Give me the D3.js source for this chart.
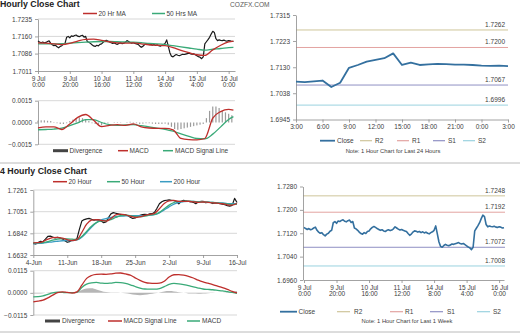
<!DOCTYPE html>
<html><head><meta charset="utf-8">
<script src="https://cdn.jsdelivr.net/npm/d3@7"></script>
<style>
body{margin:0;background:#fff;}
svg{display:block;font-family:"Liberation Sans",Arial,sans-serif;}
</style></head><body>
<svg id="c" width="527" height="336"></svg>
<script>
// ---------- DATA ----------
// Hourly close (trading-hour index 0..123), 9 Jul 0:00 -> 16 Jul
const hourlyClose = [
1.7140,1.7136,1.7133,1.7136,1.7132,1.7134,1.7138,1.7141,
1.7130,1.7124,1.7120,1.7122,1.7115,1.7111,1.7117,1.7120,1.7127,1.7130,
1.7156,1.7160,1.7154,1.7162,1.7160,1.7164,1.7166,1.7161,1.7159,1.7163,1.7165,1.7157,1.7160,
1.7138,1.7135,1.7130,1.7124,1.7119,1.7117,1.7122,1.7119,1.7126,1.7128,1.7135,1.7140,
1.7143,1.7140,1.7136,1.7133,1.7130,1.7132,1.7128,1.7126,1.7130,1.7132,1.7129,1.7131,1.7135,
1.7142,1.7138,1.7134,1.7131,1.7133,1.7130,1.7128,1.7126,
1.7119,1.7113,1.7117,1.7124,1.7128,1.7127,1.7124,1.7126,1.7122,1.7125,1.7121,1.7124,1.7120,1.7118,1.7122,1.7125,1.7130,
1.7145,
1.7118,1.7090,1.7075,1.7072,
1.7078,1.7082,1.7079,1.7077,1.7080,1.7083,1.7082,1.7084,1.7086,1.7088,1.7085,1.7083,1.7085,1.7081,1.7077,1.7073,
1.7070,1.7064,1.7072,
1.7128,1.7137,1.7146,1.7156,1.7170,1.7182,1.7177,1.7150,1.7142,1.7145,
1.7143,1.7142,1.7144,1.7141,1.7140,1.7142,1.7141,1.7138,1.7139];
const hourlyMaIdx = [0,5,10,15,20,25,30,35,40,45,50,55,60,65,70,75,80,85,90,95,100,105,110,115,120,123];
const hourlyMa20 = [1.7132,1.7131,1.7128,1.7125,1.7130,1.7140,1.7147,1.7148,1.7143,1.7137,1.7132,1.7131,1.7132,1.7128,1.7124,1.7122,1.7120,1.7112,1.7100,1.7090,1.7081,1.7078,1.7102,1.7122,1.7136,1.7140];
const hourlyMa50 = [1.7128,1.7128,1.7128,1.7129,1.7131,1.7133,1.7135,1.7137,1.7138,1.7138,1.7137,1.7136,1.7135,1.7133,1.7130,1.7128,1.7125,1.7120,1.7115,1.7110,1.7105,1.7101,1.7105,1.7108,1.7112,1.7113];
const hourlyMacd = [-0.00037,-0.0003,-0.0003,-0.00048,-0.0001,0.00035,0.00055,0.00015,-0.00028,-0.0002,-0.00015,-0.0002,-0.0001,-0.0003,-0.00038,-0.0004,-0.0004,-0.0005,-0.0011,-0.00118,-0.0012,-0.0011,0.0003,0.00075,0.0009,0.00085];
const hourlySignal = [-0.0005,-0.00048,-0.00045,-0.00038,-0.00022,-0.00003,0.0002,0.0002,0.0,-0.00015,-0.0002,-0.00017,-0.00015,-0.00022,-0.0003,-0.00038,-0.00047,-0.0006,-0.00078,-0.00095,-0.0011,-0.00112,-0.0008,-0.0003,0.0002,0.0004];
// divergence every 2 hours (index 0,2,...,122)
const hourlyDivergence = [0.00013,0.00015,0.00015,0.00012,0.0001,0.00003,-0.00005,-0.0001,-0.0001,-0.00005,
0.0001,0.0002,0.0003,0.00035,0.0003,0.0002,0.0001,-0.00005,-0.0001,-0.00015,
-0.0002,-0.0001,-0.00005,0,0.00003,0.00003,0.00002,0,0.00003,0.00005,
0.00003,-0.00005,-0.0001,-0.00008,-0.00005,-0.00005,-0.00008,-0.0001,-0.0001,-0.0001,
-0.00008,-0.00015,-0.0003,-0.00045,-0.0005,-0.00045,-0.0004,-0.00035,-0.0003,-0.00025,
-0.0002,-0.00015,-0.0001,0.0003,0.0008,0.0011,0.0011,0.001,0.0008,0.0007,0.0006,0.0005];
const hourlyXTicks = [0,20,40,60,80,100,120];
const hourlyXLabels = [["9 Jul","0:00"],["9 Jul","20:00"],["10 Jul","16:00"],["11 Jul","12:00"],["14 Jul","8:00"],["15 Jul","4:00"],["16 Jul","0:00"]];
const hourlyYTicks = [1.7011,1.7086,1.7160,1.7235];
const hourlyMacdTicks = [-0.0015,0.0,0.0015];

// Last 24 hours (hour 0..24 from 3:00)
const dayClose = [1.7079,1.7077,1.7080,1.7083,1.7060,1.7075,1.7128,1.7138,1.7150,1.7156,1.7162,1.7179,1.7138,1.7146,1.7138,1.7140,1.7142,1.7141,1.7139,1.7139,1.7138,1.7136,1.7135,1.7136,1.7134];
const dayXTicks = [0,3,6,9,12,15,18,21,24];
const dayXLabels = ["3:00","6:00","9:00","12:00","15:00","18:00","21:00","0:00","3:00"];
const dayYTicks = [1.6945,1.7038,1.7130,1.7223,1.7315];
const dayLevelNames = ["R2","R1","S1","S2"];
const dayLevels = [1.7262,1.7200,1.7067,1.6996];

// 4 hourly (days from 4-Jun; close every half day)
const fourClose = [
1.6745,1.6738,1.6752,1.6765,1.6760,1.6785,1.6812,1.6815,1.6805,1.6798,
1.6802,1.6796,1.6788,1.6770,1.6755,1.6762,1.6775,1.6778,1.6790,1.6880,
1.6960,1.6975,1.6982,1.6986,1.6978,1.6970,1.6975,1.6972,1.6960,1.6945,
1.6952,1.6995,1.7030,1.7042,1.7036,1.7030,1.7024,1.7015,1.7022,1.7012,
1.6998,1.6985,1.6990,1.7005,1.7015,1.7022,1.7025,1.7022,1.7030,1.7032,
1.7045,1.7085,1.7128,1.7148,1.7158,1.7162,1.7166,1.7162,1.7158,1.7150,
1.7128,1.7152,1.7162,1.7155,1.7150,1.7147,1.7142,1.7128,1.7145,1.7150,
1.7152,1.7138,1.7142,1.7140,1.7130,1.7136,1.7134,1.7128,1.7125,1.7118,
1.7110,1.7105,1.7112,1.7180,1.7140];
const four20 = [1.6750,1.6752,1.6762,1.6785,1.6800,1.6803,1.6795,1.6780,1.6772,1.6780,1.6850,1.6930,1.6970,1.6975,1.6968,1.6960,1.6985,1.7020,1.7028,1.7020,1.7008,1.6995,1.7002,1.7015,1.7025,1.7035,1.7080,1.7130,1.7155,1.7160,1.7150,1.7150,1.7152,1.7147,1.7142,1.7145,1.7142,1.7137,1.7133,1.7128,1.7118,1.7115,1.7130];
const four50 = [1.6748,1.6750,1.6752,1.6762,1.6775,1.6785,1.6790,1.6788,1.6785,1.6782,1.6810,1.6860,1.6910,1.6945,1.6962,1.6965,1.6975,1.6995,1.7012,1.7018,1.7012,1.7005,1.7003,1.7008,1.7018,1.7025,1.7045,1.7080,1.7115,1.7140,1.7150,1.7152,1.7153,1.7150,1.7147,1.7146,1.7143,1.7140,1.7137,1.7132,1.7126,1.7122,1.7125];
const four200 = [1.6740,1.6744,1.6748,1.6754,1.6760,1.6765,1.6770,1.6771,1.6772,1.6778,1.6805,1.6850,1.6900,1.6945,1.6972,1.6985,1.6995,1.7003,1.7008,1.7010,1.7012,1.7012,1.7012,1.7014,1.7018,1.7022,1.7040,1.7068,1.7098,1.7125,1.7142,1.7148,1.7150,1.7150,1.7148,1.7146,1.7143,1.7141,1.7138,1.7135,1.7130,1.7128,1.7128];
const fourSignal = [-0.0047,-0.0043,-0.0038,-0.0026,-0.0012,0.0001,0.0005,0.0002,-0.0001,0.0005,0.0040,0.0075,0.0090,0.0096,0.0097,0.0096,0.0098,0.0102,0.0103,0.0098,0.0092,0.0078,0.0065,0.0055,0.0050,0.0049,0.0050,0.0060,0.0082,0.0094,0.0095,0.0092,0.0086,0.0077,0.0066,0.0057,0.0050,0.0043,0.0035,0.0027,0.0018,0.0008,0.0000];
const fourMacd = [-0.0021,-0.0020,-0.0016,-0.0008,0.0000,0.0003,0.0002,0.0001,0.0001,0.0003,0.0028,0.0045,0.0052,0.0054,0.0051,0.0049,0.0051,0.0054,0.0053,0.0049,0.0042,0.0033,0.0025,0.0020,0.0019,0.0019,0.0022,0.0032,0.0044,0.0049,0.0047,0.0043,0.0038,0.0031,0.0025,0.0020,0.0018,0.0016,0.0013,0.0010,0.0006,0.0002,-0.0002];
const fourDivergence = [-0.0004,-0.0004,-0.0002,0.0002,0.0003,0.0002,0.0000,-0.0001,0.0000,0.0004,0.0015,0.0022,0.0024,0.0018,0.0010,0.0004,0.0002,0.0002,0.0001,-0.0002,-0.0006,-0.0010,-0.0012,-0.0010,-0.0006,-0.0002,0.0002,0.0007,0.0009,0.0007,0.0003,0.0000,-0.0003,-0.0004,-0.0005,-0.0004,-0.0002,-0.0001,0.0000,0.0001,0.0003,0.0006,0.0010];
const fourXTicks = [0,7,14,21,28,35,42];
const fourXLabels = ["4-Jun","11-Jun","18-Jun","25-Jun","2-Jul","9-Jul","16-Jul"];
const fourYTicks = [1.6632,1.6842,1.7051,1.7261];
const fourMacdTicks = [-0.0115,0.0,0.0115];

// Last 1 week (hourly)
const weekYTicks = [1.6960,1.7040,1.7120,1.7200,1.7280];
const weekLevelNames = ["R2","R1","S1","S2"];
const weekLevels = [1.7248,1.7192,1.7072,1.7008];

// ---------- STYLE ----------
const svg = d3.select("#c");
const TXT = "#404040", AX = "#8c8c8c", GRID = "#cdcdcd";
const RED = "#be2f2c", GREEN = "#3aaa78", TEAL = "#3a9cc2", CLOSE = "#34709f", BLACK = "#1a1a1a";
const LEVEL_COL = {R2:"#cfc59a", R1:"#e3a3a1", S1:"#8f90c4", S2:"#9ad2df"};
const FS = 6.5;
const f4 = d3.format(".4f");

function text(x, y, s, opts = {}) {
  return svg.append("text").attr("x", x).attr("y", y).text(s)
    .attr("font-size", opts.size || FS).attr("fill", opts.fill || TXT)
    .attr("font-weight", opts.weight || "normal")
    .attr("text-anchor", opts.anchor || "start");
}
function styleAxis(g) {
  g.select(".domain").attr("stroke", AX).attr("stroke-width", 0.8);
  g.selectAll(".tick line").attr("stroke", AX).attr("stroke-width", 0.8);
  g.selectAll(".tick text").attr("fill", TXT).attr("font-size", FS).attr("font-family", null);
}
function grid(y, vals, x0, x1) {
  svg.append("g").selectAll("line").data(vals).join("line")
    .attr("x1", x0).attr("x2", x1).attr("y1", d => y(d)).attr("y2", d => y(d))
    .attr("stroke", GRID).attr("stroke-width", 0.8);
}
function yAxis(y, x0, ticks, fmt) {
  const g = svg.append("g").attr("transform", `translate(${x0},0)`)
    .call(d3.axisLeft(y).tickValues(ticks).tickFormat(fmt).tickSize(3).tickSizeOuter(0).tickPadding(3));
  styleAxis(g);
}
function xAxis(x, y0, ticks, labels, twoLine) {
  const g = svg.append("g").attr("transform", `translate(0,${y0})`)
    .call(d3.axisBottom(x).tickValues(ticks).tickFormat((d, i) => twoLine ? "" : labels[i]).tickSize(3).tickSizeOuter(0).tickPadding(2));
  styleAxis(g);
  if (twoLine) {
    g.selectAll(".tick text").each(function (d, i) {
      const t = d3.select(this);
      t.append("tspan").attr("x", 0).attr("dy", "0.71em").text(labels[i][0]);
      t.append("tspan").attr("x", 0).attr("dy", "1.05em").text(labels[i][1]);
    }).attr("dy", null);
  }
}
function legLine(x0, x1, y, col, w) {
  svg.append("line").attr("x1", x0).attr("x2", x1).attr("y1", y).attr("y2", y)
    .attr("stroke", col).attr("stroke-width", w || 1.5);
}
function path(data, gen, col, w) {
  svg.append("path").datum(data).attr("d", gen).attr("fill", "none")
    .attr("stroke", col).attr("stroke-width", w).attr("stroke-linejoin", "round");
}

// ---------- HEADER ----------
text(0, 6.6, "Hourly Close Chart", {size: 8.8, weight: "bold", fill: "#222"});
text(230, 6.5, "COZFX.COM", {size: 6.6, fill: "#595959"});

// ---------- PANEL A : hourly price ----------
{
  const x = d3.scaleLinear().domain([0, 124]).range([38, 235]);
  const y = d3.scaleLinear().domain([1.7011, 1.7235]).range([71, 19]);
  grid(y, hourlyYTicks.slice(1), 38, 235);
  yAxis(y, 38, hourlyYTicks, f4);
  xAxis(x, 71, hourlyXTicks, hourlyXLabels, true);
  path(hourlyClose, d3.line().x((d, i) => x(i)).y(d => y(d)), BLACK, 1.2);
  const ma = arr => arr.map((v, k) => [hourlyMaIdx[k], v]);
  path(ma(hourlyMa50), d3.line().x(d => x(d[0])).y(d => y(d[1])).curve(d3.curveMonotoneX), GREEN, 1.3);
  path(ma(hourlyMa20), d3.line().x(d => x(d[0])).y(d => y(d[1])).curve(d3.curveMonotoneX), RED, 1.3);
  legLine(83, 97, 13.5, RED); text(98.5, 15.8, "20 Hr MA");
  legLine(152, 165, 13.5, GREEN); text(166.5, 15.8, "50 Hrs MA");
}
// ---------- PANEL B : hourly MACD ----------
{
  const x = d3.scaleLinear().domain([0, 124]).range([38, 235]);
  const y = d3.scaleLinear().domain([-0.0015, 0.0015]).range([144.3, 100.7]);
  grid(y, [-0.0015, 0.0015], 38, 235);
  yAxis(y, 38, hourlyMacdTicks, f4);
  svg.append("g").selectAll("rect").data(hourlyDivergence).join("rect")
    .attr("x", (d, i) => x(i * 2) - 0.6).attr("width", 1.2)
    .attr("y", d => Math.min(y(d), y(0))).attr("height", d => Math.abs(y(d) - y(0)))
    .attr("fill", "#9b9b9b");
  const pts = arr => arr.map((v, k) => [hourlyMaIdx[k], v]);
  const ln = d3.line().x(d => x(d[0])).y(d => y(d[1])).curve(d3.curveMonotoneX);
  path(pts(hourlySignal), ln, GREEN, 1.3);
  path(pts(hourlyMacd), ln, RED, 1.3);
  legLine(53, 68, 150.7, "#444", 3); text(69.5, 153, "Divergence");
  legLine(118, 128, 150.7, RED); text(129.5, 153, "MACD");
  legLine(163, 173, 150.7, GREEN); text(175, 153, "MACD Signal Line");
}
// ---------- PANEL C : last 24 hours ----------
{
  const x = d3.scaleLinear().domain([0, 24]).range([296, 508]);
  const y = d3.scaleLinear().domain([1.6945, 1.7315]).range([119.5, 15]);
  dayLevels.forEach((v, k) => {
    svg.append("line").attr("x1", 296).attr("x2", 508).attr("y1", y(v)).attr("y2", y(v))
      .attr("stroke", LEVEL_COL[dayLevelNames[k]]).attr("stroke-width", 1);
    text(505, y(v) - 3, f4(v), {anchor: "end"});
  });
  yAxis(y, 296, dayYTicks, f4);
  xAxis(x, 119.5, dayXTicks, dayXLabels, false);
  path(dayClose, d3.line().x((d, i) => x(i)).y(d => y(d)), CLOSE, 1.8);
  const ly = 140.7;
  legLine(320, 335, ly, CLOSE, 1.8); text(337, ly + 2.3, "Close");
  const lx = [[360, 375], [397, 412], [433, 448], [463, 478]];
  dayLevelNames.forEach((n, k) => { legLine(lx[k][0], lx[k][0] + 12, ly, LEVEL_COL[n], 1.2); text(lx[k][1], ly + 2.3, n); });
  text(393, 153, "Note: 1 Hour Chart for Last 24 Hours", {size: 5.8, anchor: "middle"});
}
// separators
svg.append("line").attr("x1", 0).attr("x2", 520).attr("y1", 163).attr("y2", 163).attr("stroke", "#a8a8a8").attr("stroke-width", 0.8);
svg.append("line").attr("x1", 0).attr("x2", 520).attr("y1", 332).attr("y2", 332).attr("stroke", "#a8a8a8").attr("stroke-width", 0.8);

// ---------- PANEL D : 4 hourly price ----------
text(0, 173.8, "4 Hourly Close Chart", {size: 8.8, weight: "bold", fill: "#222"});
{
  const x = d3.scaleLinear().domain([0, 42]).range([33.3, 237]);
  const y = d3.scaleLinear().domain([1.6632, 1.7261]).range([255, 190]);
  grid(y, fourYTicks.slice(1), 33.3, 237);
  yAxis(y, 33.3, fourYTicks, f4);
  xAxis(x, 255, fourXTicks, fourXLabels, false);
  path(fourClose, d3.line().x((d, i) => x(i / 2)).y(d => y(d)), BLACK, 1.2);
  const ln = d3.line().x((d, i) => x(i)).y(d => y(d)).curve(d3.curveMonotoneX);
  path(four200, ln, TEAL, 1.3);
  path(four50, ln, GREEN, 1.3);
  path(four20, ln, RED, 1.3);
  const ly = 181.7;
  legLine(53, 67, ly, RED); text(68.5, ly + 2.3, "20 Hour");
  legLine(107, 120, ly, GREEN); text(121.5, ly + 2.3, "50 Hour");
  legLine(160, 172, ly, TEAL); text(173.5, ly + 2.3, "200 Hour");
}
// ---------- PANEL E : 4 hourly MACD ----------
{
  const x = d3.scaleLinear().domain([0, 42]).range([33.3, 237]);
  const y = d3.scaleLinear().domain([-0.0115, 0.0115]).range([315, 270.7]);
  grid(y, [-0.0115, 0.0115], 33.3, 237);
  yAxis(y, 33.3, fourMacdTicks, f4);
  svg.append("path").datum(fourDivergence)
    .attr("d", d3.area().x((d, i) => x(i)).y0(y(0)).y1(d => y(d)).curve(d3.curveMonotoneX))
    .attr("fill", "#a9a9a9").attr("opacity", 0.85);
  const ln = d3.line().x((d, i) => x(i)).y(d => y(d)).curve(d3.curveMonotoneX);
  path(fourMacd, ln, GREEN, 1.3);
  path(fourSignal, ln, RED, 1.3);
  const ly = 321;
  legLine(45, 60, ly, "#444", 3); text(62, ly + 2.3, "Divergence");
  legLine(108, 122, ly, RED); text(123.5, ly + 2.3, "MACD Signal Line");
  legLine(187, 200, ly, GREEN); text(202, ly + 2.3, "MACD");
}
// ---------- PANEL F : last 1 week ----------
{
  const x = d3.scaleLinear().domain([0, 123]).range([304, 504]);
  const y = d3.scaleLinear().domain([1.6960, 1.7280]).range([280, 186.5]);
  weekLevels.forEach((v, k) => {
    svg.append("line").attr("x1", 303).attr("x2", 505).attr("y1", y(v)).attr("y2", y(v))
      .attr("stroke", LEVEL_COL[weekLevelNames[k]]).attr("stroke-width", 1);
    text(505, y(v) - 3, f4(v), {anchor: "end"});
  });
  yAxis(y, 303, weekYTicks, f4);
  xAxis(x, 280, hourlyXTicks, hourlyXLabels, true);
  path(hourlyClose, d3.line().x((d, i) => x(i)).y(d => y(d)), CLOSE, 1.6);
  const ly = 311.7;
  legLine(280, 297, ly, CLOSE, 1.8); text(298.5, ly + 2.3, "Close");
  const lx = [[337, 354], [390, 405], [430, 447], [477, 493]];
  weekLevelNames.forEach((n, k) => { legLine(lx[k][0], lx[k][0] + 13, ly, LEVEL_COL[n], 1.2); text(lx[k][1], ly + 2.3, n); });
  text(407, 323, "Note: 1 Hour Chart for Last 1 Week", {size: 5.8, anchor: "middle"});
}
</script>
</body></html>
